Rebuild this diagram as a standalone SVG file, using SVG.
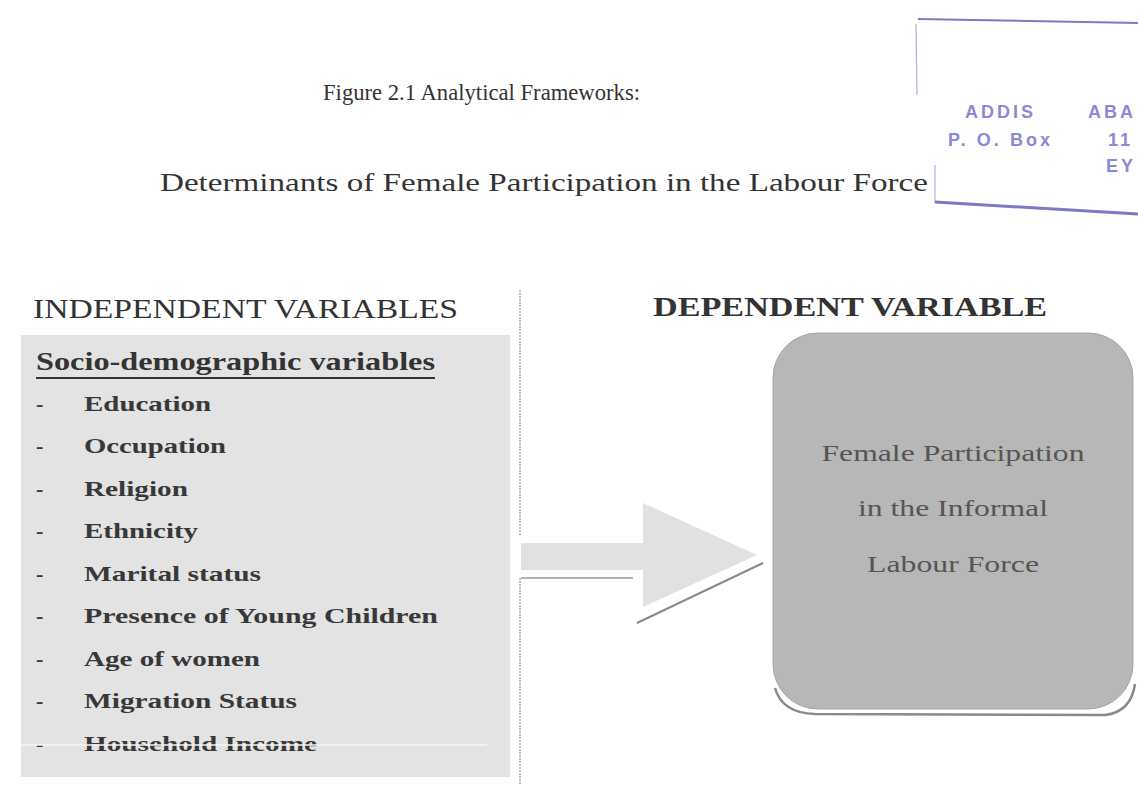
<svg xmlns="http://www.w3.org/2000/svg" width="1138" height="785" viewBox="0 0 1138 785">
<style>
  .serif { font-family: "Liberation Serif", "Times New Roman", serif; fill: #333; }
  .item { font-family: "Liberation Serif", "Times New Roman", serif; font-weight: bold; font-size: 22px; fill: #383838; }
  .boxtxt { font-family: "Liberation Serif", "Times New Roman", serif; font-size: 23px; fill: #555; text-anchor: middle; }
  .stamp { font-family: "Liberation Sans", Arial, sans-serif; font-weight: bold; font-size: 18px; fill: #8b88d6; letter-spacing: 3px; }
  .stampline { stroke: #7d7ac9; fill: none; }
  .conn { fill: none; }
</style>
<rect width="1138" height="785" fill="#ffffff"/>

<g id="stamp">
  <path class="stampline" d="M 918 19 L 1138 23" stroke-width="2"/>
  <path class="stampline" d="M 916 24 L 917 95" stroke-width="1.2" opacity="0.6"/>
  <path class="stampline" d="M 935 165 L 935 203" stroke-width="1.2" opacity="0.6"/>
  <path class="stampline" d="M 935 202 L 1138 214" stroke-width="3"/>
  <text class="stamp" x="965" y="118">ADDIS</text>
  <text class="stamp" x="1088" y="118">ABA</text>
  <text class="stamp" x="948" y="146">P. O.</text>
  <text class="stamp" x="1010" y="146">Box</text>
  <text class="stamp" x="1108" y="146">11</text>
  <text class="stamp" x="1106" y="172">EY</text>
</g>

<g id="titles">
  <text class="serif" x="323" y="100" font-size="24" textLength="317" lengthAdjust="spacingAndGlyphs">Figure 2.1 Analytical Frameworks:</text>
  <text class="serif" x="160" y="191" font-size="25" textLength="768" lengthAdjust="spacingAndGlyphs">Determinants of Female Participation in the Labour Force</text>
</g>

<g id="independent">
  <text class="serif" x="33" y="318" font-size="28" textLength="425" lengthAdjust="spacingAndGlyphs">INDEPENDENT VARIABLES</text>
  <rect x="21" y="335" width="489" height="442" fill="#e3e3e3"/>
  <text class="serif" x="36" y="370" font-size="25" font-weight="bold" textLength="399" lengthAdjust="spacingAndGlyphs">Socio-demographic variables</text>
  <line x1="36" y1="378" x2="435" y2="378" stroke="#333" stroke-width="2"/>
  <g>
    <text class="item" x="36" y="411">-</text>
    <text class="item" x="84" y="411" textLength="127" lengthAdjust="spacingAndGlyphs">Education</text>
    <text class="item" x="36" y="453">-</text>
    <text class="item" x="84" y="453" textLength="142" lengthAdjust="spacingAndGlyphs">Occupation</text>
    <text class="item" x="36" y="496">-</text>
    <text class="item" x="84" y="496" textLength="104" lengthAdjust="spacingAndGlyphs">Religion</text>
    <text class="item" x="36" y="538">-</text>
    <text class="item" x="84" y="538" textLength="114" lengthAdjust="spacingAndGlyphs">Ethnicity</text>
    <text class="item" x="36" y="581">-</text>
    <text class="item" x="84" y="581" textLength="177" lengthAdjust="spacingAndGlyphs">Marital status</text>
    <text class="item" x="36" y="623">-</text>
    <text class="item" x="84" y="623" textLength="354" lengthAdjust="spacingAndGlyphs">Presence of Young Children</text>
    <text class="item" x="36" y="666">-</text>
    <text class="item" x="84" y="666" textLength="176" lengthAdjust="spacingAndGlyphs">Age of women</text>
    <text class="item" x="36" y="708">-</text>
    <text class="item" x="84" y="708" textLength="213" lengthAdjust="spacingAndGlyphs">Migration Status</text>
    <text class="item" x="36" y="751">-</text>
    <text class="item" x="84" y="751" textLength="233" lengthAdjust="spacingAndGlyphs">Household Income</text>
  </g>
  <line x1="21" y1="745" x2="487" y2="745" stroke="#f6f6f6" stroke-width="1.5"/>
</g>

<g id="connectors">
  <line class="conn" x1="520" y1="290" x2="520" y2="536" stroke="#aaaaaa" stroke-width="1.5" stroke-dasharray="2 1"/>
  <line class="conn" x1="520" y1="578" x2="520" y2="785" stroke="#aaaaaa" stroke-width="1.5" stroke-dasharray="2 1"/>
  <polygon points="521,543 643,543 643,503 757,555 643,607 643,570 521,570" fill="#e1e1e1"/>
  <line class="conn" x1="521" y1="578" x2="633" y2="578" stroke="#999999" stroke-width="1.5"/>
  <line class="conn" x1="637" y1="623" x2="763" y2="563" stroke="#8a8a8a" stroke-width="2"/>
</g>

<g id="dependent">
  <text class="serif" x="653" y="316" font-size="27" font-weight="bold" textLength="394" lengthAdjust="spacingAndGlyphs">DEPENDENT VARIABLE</text>
  <rect x="773" y="333" width="360" height="376" rx="45" ry="45" fill="#b7b7b7" stroke="#a3a3a3" stroke-width="1"/>
  <path d="M 775 688 Q 782 713 815 714 L 1105 715 Q 1131 712 1135 684" fill="none" stroke="#8a8a8a" stroke-width="2.5"/>
  <text class="boxtxt" x="953" y="461" textLength="263" lengthAdjust="spacingAndGlyphs">Female Participation</text>
  <text class="boxtxt" x="953" y="516" textLength="190" lengthAdjust="spacingAndGlyphs">in the Informal</text>
  <text class="boxtxt" x="953" y="572" textLength="172" lengthAdjust="spacingAndGlyphs">Labour Force</text>
</g>
</svg>
